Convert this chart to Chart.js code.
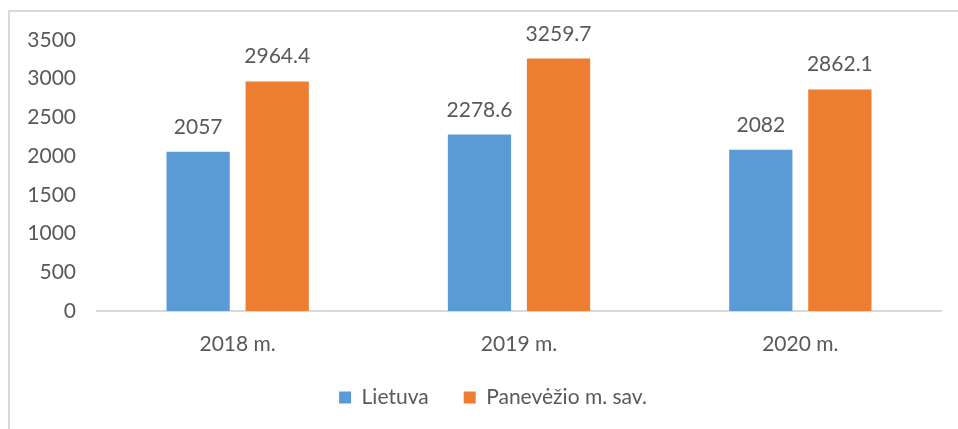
<!DOCTYPE html>
<html>
<head>
<meta charset="utf-8">
<script src="https://cdn.jsdelivr.net/npm/chart.js@4"></script>
<style>
  html, body { margin: 0; padding: 0; background: #fff; }
  #wrap { position: relative; width: 958px; height: 429px; }
  #frame { position: absolute; left: 8px; top: 10px; right: -4px; bottom: -4px; border: 2px solid #d9d9d9; }
  canvas { position: absolute; left: 0; top: 0; }
</style>
</head>
<body>
<div id="wrap">
  <div id="frame"></div>
  <canvas id="myChart" width="958" height="429"></canvas>
</div>
<script>
var years = ["2018 m.", "2019 m.", "2020 m."];
var lietuva = [2057, 2278.6, 2082];
var panevezys = [2964.4, 3259.7, 2862.1];
var seriesNames = ["Lietuva", "Panevėžio m. sav."];

var textColor = "#595959";
var fontFamily = "Lato, 'Open Sans', sans-serif";
var fontSize = 21;

// value labels above each bar
var barLabels = {
  id: 'barLabels',
  afterDatasetsDraw: function(chart) {
    var ctx = chart.ctx;
    ctx.save();
    ctx.font = fontSize + "px " + fontFamily;
    ctx.fillStyle = textColor;
    ctx.textAlign = "center";
    ctx.textBaseline = "alphabetic";
    chart.data.datasets.forEach(function(ds, i) {
      chart.getDatasetMeta(i).data.forEach(function(bar, j) {
        ctx.fillText(String(ds.data[j]), bar.x, bar.y - 18);
      });
    });
    ctx.restore();
  }
};

// fixed legend height so it sits where the original one does
var legendFit = {
  id: 'legendFit',
  beforeInit: function(chart) {
    var fit = chart.legend.fit;
    chart.legend.fit = function() {
      fit.call(this);
      this.height = 63;
    };
  }
};

var ctx = document.getElementById("myChart").getContext('2d');
var myChart = new Chart(ctx, {
  type: 'bar',
  data: {
    labels: years,
    datasets: [{
      label: seriesNames[0],
      data: lietuva,
      backgroundColor: "#5B9BD5"
    }, {
      label: seriesNames[1],
      data: panevezys,
      backgroundColor: "#ED7D31"
    }]
  },
  options: {
    responsive: false,
    animation: false,
    layout: { padding: { left: 28, right: 0, top: 40, bottom: 14 } },
    datasets: {
      bar: { categoryPercentage: 0.562, barPercentage: 0.8 }
    },
    scales: {
      x: {
        grid: { display: false, drawTicks: false },
        border: { display: true, color: "#d9d9d9", width: 2 },
        ticks: { color: textColor, font: { family: fontFamily, size: fontSize }, padding: 21 },
        afterFit: function(axis) { axis.height = 41; }
      },
      y: {
        min: 0,
        max: 3500,
        grid: { display: false, drawTicks: false },
        border: { display: false },
        ticks: {
          stepSize: 500,
          color: textColor,
          font: { family: fontFamily, size: fontSize },
          padding: 21,
          callback: function(v) { return String(v); }
        },
        afterFit: function(axis) { axis.width = 69; }
      },
      // empty strip on the right, keeps the plot off the edge
      yRight: {
        position: 'right',
        grid: { display: false, drawTicks: false },
        border: { display: false },
        ticks: { display: false },
        afterFit: function(axis) { axis.width = 17; }
      }
    },
    plugins: {
      tooltip: { enabled: false },
      legend: {
        position: 'bottom',
        labels: {
          color: textColor,
          font: { family: fontFamily, size: fontSize },
          boxWidth: 12,
          boxHeight: 12,
          padding: 35
        }
      }
    }
  },
  plugins: [barLabels, legendFit]
});
</script>
</body>
</html>
